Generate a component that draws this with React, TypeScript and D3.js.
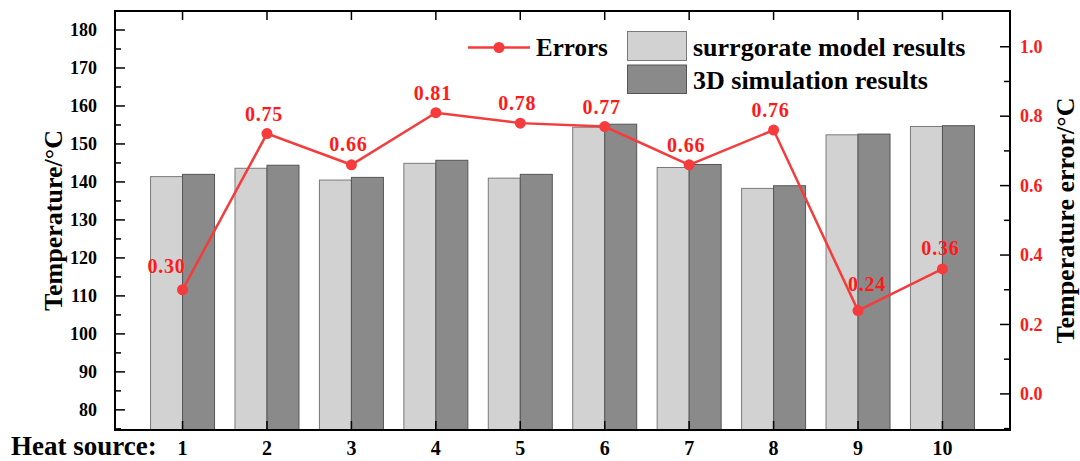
import React from 'react';
import * as d3 from 'd3';

// Heat source categories and measured values
const sources = ['1', '2', '3', '4', '5', '6', '7', '8', '9', '10'];
const surrogate = [141.4, 143.6, 140.5, 144.9, 141.0, 154.4, 143.8, 138.3, 152.4, 154.6];
const simulation = [142.0, 144.4, 141.2, 145.7, 142.0, 155.2, 144.6, 139.0, 152.6, 154.8];
const errors = [0.30, 0.75, 0.66, 0.81, 0.78, 0.77, 0.66, 0.76, 0.24, 0.36];

const leftTicks = [80, 90, 100, 110, 120, 130, 140, 150, 160, 170, 180];
const leftMinor = [75, 85, 95, 105, 115, 125, 135, 145, 155, 165, 175];
const rightTicks = [0.0, 0.2, 0.4, 0.6, 0.8, 1.0];
const rightMinor = [-0.1, 0.1, 0.3, 0.5, 0.7, 0.9];

// label nudges (dx, dy) relative to each error marker
const labelNudge: [number, number][] = [
  [-16, -17], [-3, -13], [-3, -14], [-3, -13], [-3, -13],
  [-3, -13], [-3, -13], [-3, -13], [9, -20], [-2, -14],
];

const W = 1080;
const H = 461;
const margin = { top: 11, right: 70, bottom: 31, left: 115 };
const FONT = 'Liberation Serif, Times New Roman, serif';
const RED = '#f53b3b';
const LIGHT = '#d2d2d2';
const DARK = '#8a8a8a';

export default function App() {
  const x0 = margin.left;
  const x1 = W - margin.right;
  const y0 = H - margin.bottom;
  const y1 = margin.top;

  const x = d3.scalePoint<string>().domain(sources).range([x0, x1]).padding(0.8);
  const xSub = d3.scaleBand<string>().domain(['sur', 'sim']).range([-32, 32]).padding(0);
  const y = d3.scaleLinear().domain([74.7, 185]).range([y0, y1]);
  const yR = d3.scaleLinear().domain([-0.104, 1.103]).range([y0, y1]);

  const line = d3
    .line<number>()
    .x((_, i) => x(sources[i]) as number)
    .y((d) => yR(d));

  const bars = sources.flatMap((s, i) => [
    { key: `sur-${s}`, cx: x(s) as number, sub: 'sur', v: surrogate[i], fill: LIGHT, stroke: '#7a7a7a' },
    { key: `sim-${s}`, cx: x(s) as number, sub: 'sim', v: simulation[i], fill: DARK, stroke: '#555' },
  ]);

  return (
    <svg width={W} height={H} style={{ position: 'absolute', left: 0, top: 0, background: '#fff', fontFamily: FONT, fontWeight: 700 }}>
      {/* bars */}
      {bars.map((b) => (
        <rect key={b.key} x={b.cx + (xSub(b.sub) as number)} y={y(b.v)}
          width={xSub.bandwidth()} height={y0 - y(b.v)}
          fill={b.fill} stroke={b.stroke} strokeWidth={1} />
      ))}

      {/* left axis ticks */}
      {leftTicks.map((t) => (
        <g key={`l${t}`}>
          <line x1={x0} x2={x0 + 10} y1={y(t)} y2={y(t)} stroke="#000" strokeWidth={1.5} />
          <text x={x0 - 18} y={y(t)} dy="0.35em" textAnchor="end" fontSize={18} fill="#000">{t}</text>
        </g>
      ))}
      {leftMinor.map((t) => (
        <line key={`lm${t}`} x1={x0} x2={x0 + 6} y1={y(t)} y2={y(t)} stroke="#000" strokeWidth={1.5} />
      ))}

      {/* right axis ticks */}
      {rightTicks.map((t) => (
        <g key={`r${t}`}>
          <line x1={x1} x2={x1 - 10} y1={yR(t)} y2={yR(t)} stroke="#000" strokeWidth={1.5} />
          <text x={x1 + 10} y={yR(t)} dy="0.35em" textAnchor="start" fontSize={18} fill="#ff1a1a">{t.toFixed(1)}</text>
        </g>
      ))}
      {rightMinor.map((t) => (
        <line key={`rm${t}`} x1={x1} x2={x1 - 6} y1={yR(t)} y2={yR(t)} stroke="#000" strokeWidth={1.5} />
      ))}

      {/* top & bottom category ticks */}
      {sources.map((s) => (
        <g key={`c${s}`}>
          <line x1={x(s)} x2={x(s)} y1={y0} y2={y0 - 9} stroke="#000" strokeWidth={1.5} />
          <line x1={x(s)} x2={x(s)} y1={y1} y2={y1 + 9} stroke="#000" strokeWidth={1.5} />
          <text x={x(s)} y={455} textAnchor="middle" fontSize={20} fill="#000">{s}</text>
        </g>
      ))}
      <text x={11} y={455} fontSize={27} fill="#000">Heat source:</text>

      {/* frame */}
      <rect x={x0} y={y1} width={x1 - x0} height={y0 - y1} fill="none" stroke="#000" strokeWidth={2} />

      {/* errors line */}
      <path d={line(errors) ?? ''} fill="none" stroke={RED} strokeWidth={2.5} />
      {errors.map((e, i) => (
        <g key={`e${i}`}>
          <circle cx={x(sources[i])} cy={yR(e)} r={5.5} fill={RED} />
          <text x={(x(sources[i]) as number) + labelNudge[i][0]} y={yR(e) + labelNudge[i][1]}
            textAnchor="middle" fontSize={20} fill="#ff1a1a" letterSpacing={0.8}>{e.toFixed(2)}</text>
        </g>
      ))}

      {/* axis titles */}
      <text transform={`translate(62,${(y0 + y1) / 2}) rotate(-90)`} textAnchor="middle" fontSize={26} fill="#000">
        Temperature/°C
      </text>
      <text transform={`translate(1074,${(y0 + y1) / 2}) rotate(-90)`} textAnchor="middle" fontSize={26} fill="#000">
        Temperature error/°C
      </text>

      {/* legend */}
      <g>
        <line x1={468} x2={530} y1={47.5} y2={47.5} stroke={RED} strokeWidth={2.5} />
        <circle cx={499} cy={47.5} r={5.5} fill={RED} />
        <text x={536} y={55.5} fontSize={25} fill="#000">Errors</text>
        <rect x={627.5} y={31.5} width={59} height={29} fill={LIGHT} stroke="#7a7a7a" strokeWidth={1} />
        <text x={693} y={55.5} fontSize={26} fill="#000">surrgorate model results</text>
        <rect x={627.5} y={65} width={59} height={28.5} fill={DARK} stroke="#555" strokeWidth={1} />
        <text x={693} y={88.5} fontSize={26} fill="#000">3D simulation results</text>
      </g>
    </svg>
  );
}
